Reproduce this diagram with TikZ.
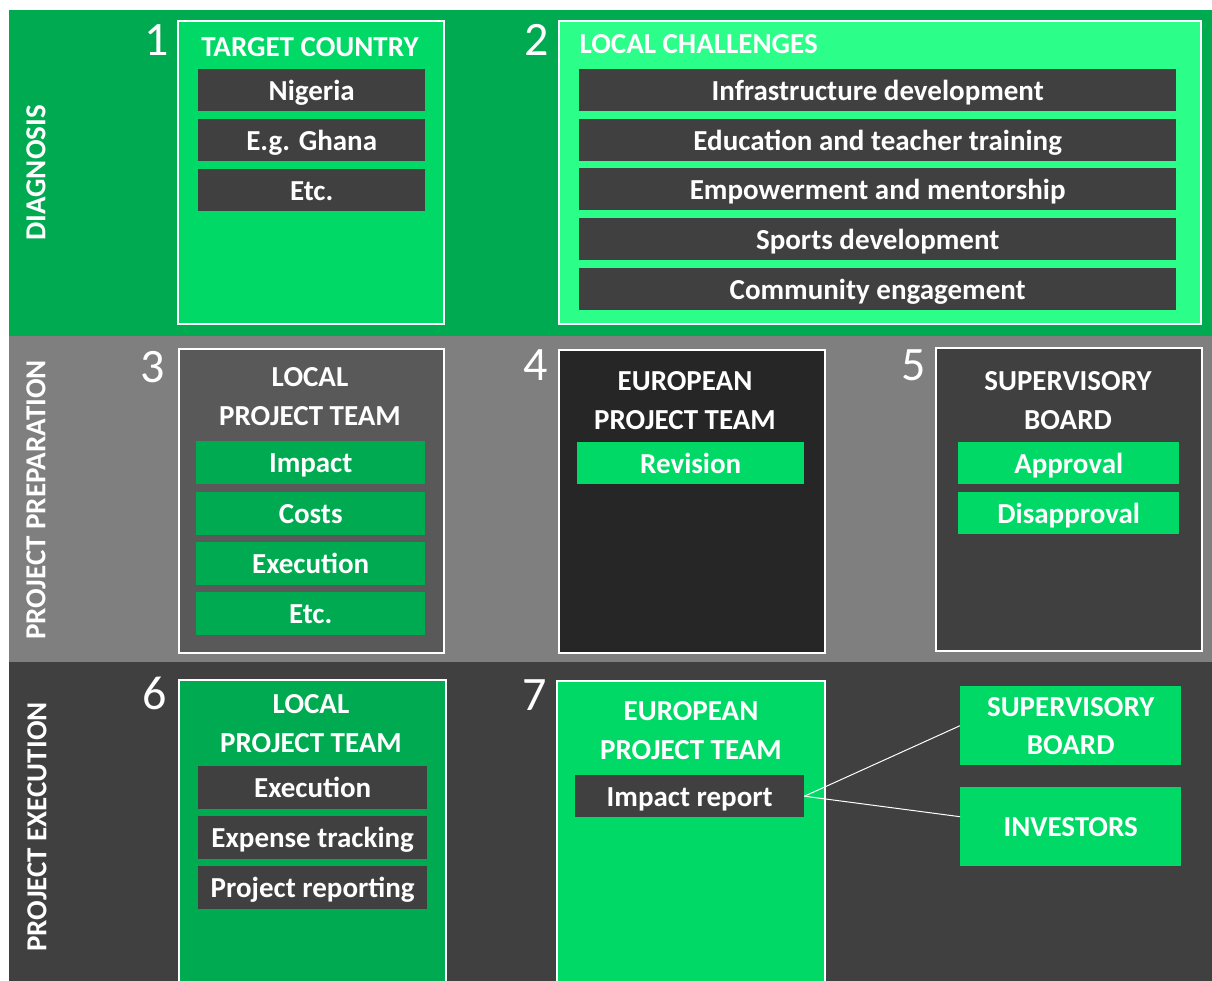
\documentclass[tikz,border=0pt]{standalone}
\usepackage{fontspec}
\setmainfont{Carlito}
\usetikzlibrary{calc,positioning}

\definecolor{bandgreen}{RGB}{0,170,80}
\definecolor{brightgreen}{RGB}{0,217,102}
\definecolor{lightgreen}{RGB}{43,255,138}
\definecolor{bandgray}{RGB}{127,127,127}
\definecolor{midgray}{RGB}{89,89,89}
\definecolor{blackgray}{RGB}{38,38,38}
\definecolor{darkgray}{RGB}{64,64,64}

\tikzset{
  panel/.style={draw=white,line width=2pt,inner sep=0pt,anchor=north west},
  item/.style={text=white,inner sep=0pt,anchor=north west,minimum width=227pt,minimum height=42pt,text height=20pt,text depth=0pt,font=\fontsize{29}{34}\selectfont\bfseries},
  head/.style={text=white,align=center,font=\fontsize{29}{39}\selectfont\bfseries},
  phase/.style={text=white,rotate=90,font=\fontsize{29}{34}\selectfont\bfseries},
  stepno/.style={text=white,font=\fontsize{48}{50}\selectfont}
}

\begin{document}
\begin{tikzpicture}[x=1pt,y=-1pt]
  \clip (0,0) rectangle (1212,981);

  % Phase bands
  \fill[bandgreen] (9,10) rectangle (1212,336);
  \fill[bandgray] (9,336) rectangle (1212,662);
  \fill[darkgray] (9,662) rectangle (1212,981);
  \node[phase] (diag) at (36,173) {DIAGNOSIS};
  \node[phase] (prep) at (36,500) {PROJECT PREPARATION};
  \node[phase] (exec) at (37,827) {PROJECT EXECUTION};

  % 1: Target country
  \node[stepno] (n1) at (157,40) {1};
  \node[panel,fill=brightgreen,minimum width=266pt,minimum height=303pt] (p1) at (177,20) {};
  \node[head] (t1) at (310,47) {TARGET COUNTRY};
  \node[item,fill=darkgray] (nigeria) at (198,69) {Nigeria};
  \node[item,fill=darkgray] (ghana) at (198,119) {E.g. Ghana};
  \node[item,fill=darkgray] (etc1) at (198,169) {Etc.};

  % 2: Local challenges
  \node[stepno] (n2) at (537,40) {2};
  \node[panel,fill=lightgreen,minimum width=642pt,minimum height=303pt] (p2) at (558,20) {};
  \node[head,anchor=west] (t2) at (576,44) {LOCAL CHALLENGES};
  \node[item,fill=darkgray,minimum width=597pt] (infra) at (579,69) {Infrastructure development};
  \node[item,fill=darkgray,minimum width=597pt] (educ) at (579,119) {Education and teacher training};
  \node[item,fill=darkgray,minimum width=597pt] (empow) at (579,168) {Empowerment and mentorship};
  \node[item,fill=darkgray,minimum width=597pt] (sport) at (579,218) {Sports development};
  \node[item,fill=darkgray,minimum width=597pt] (commu) at (579,268) {Community engagement};

  % 3: Local project team
  \node[stepno] (n3) at (153,367) {3};
  \node[panel,fill=midgray,minimum width=265pt,minimum height=304pt] (p3) at (178,348) {};
  \node[head] (t3) at (310,397) {LOCAL\\PROJECT TEAM};
  \node[item,fill=bandgreen,minimum width=229pt,minimum height=43pt] (impact) at (196,441) {Impact};
  \node[item,fill=bandgreen,minimum width=229pt,minimum height=43pt] (costs) at (196,492) {Costs};
  \node[item,fill=bandgreen,minimum width=229pt,minimum height=43pt] (execu) at (196,542) {Execution};
  \node[item,fill=bandgreen,minimum width=229pt,minimum height=43pt] (etc3) at (196,592) {Etc.};

  % 4: European project team
  \node[stepno] (n4) at (536,365) {4};
  \node[panel,fill=blackgray,minimum width=266pt,minimum height=303pt] (p4) at (558,349) {};
  \node[head] (t4) at (685,401) {EUROPEAN\\PROJECT TEAM};
  \node[item,fill=brightgreen] (revis) at (577,442) {Revision};

  % 5: Supervisory board
  \node[stepno] (n5) at (914,365) {5};
  \node[panel,fill=darkgray,minimum width=266pt,minimum height=303pt] (p5) at (935,347) {};
  \node[head] (t5) at (1068,401) {SUPERVISORY\\BOARD};
  \node[item,fill=brightgreen,minimum width=221pt] (approv) at (958,442) {Approval};
  \node[item,fill=brightgreen,minimum width=221pt] (disapp) at (958,492) {Disapproval};

  % 6: Local project team (execution)
  \node[stepno] (n6) at (155,693) {6};
  \node[panel,fill=bandgreen,minimum width=267pt,minimum height=330pt] (p6) at (178,679) {};
  \node[head] (t6) at (311,724) {LOCAL\\PROJECT TEAM};
  \node[item,fill=darkgray,minimum width=229pt,minimum height=43pt] (execu6) at (198,766) {Execution};
  \node[item,fill=darkgray,minimum width=229pt,minimum height=43pt] (expen) at (198,816) {Expense tracking};
  \node[item,fill=darkgray,minimum width=229pt,minimum height=43pt] (repor) at (198,866) {Project reporting};

  % 7: European project team (execution)
  \node[stepno] (n7) at (535,695) {7};
  \node[panel,fill=brightgreen,minimum width=268pt,minimum height=330pt] (p7) at (556,680) {};
  \node[head] (t7) at (691,731) {EUROPEAN\\PROJECT TEAM};
  \node[item,fill=darkgray,minimum width=229pt] (imprep) at (575,775) {Impact report};

  % Receivers of the report
  \node[item,fill=brightgreen,align=center,minimum width=221pt,minimum height=79pt,text height=,text depth=,font=\fontsize{29}{38}\selectfont\bfseries] (board) at (960,686) {SUPERVISORY\\BOARD};
  \node[item,fill=brightgreen,minimum width=221pt,minimum height=79pt] (invest) at (960,787) {INVESTORS};
  \draw[white,line width=1pt] (imprep.east) -- (board.west);
  \draw[white,line width=1pt] (imprep.east) -- ([yshift=10pt]invest.west);

\end{tikzpicture}
\end{document}
